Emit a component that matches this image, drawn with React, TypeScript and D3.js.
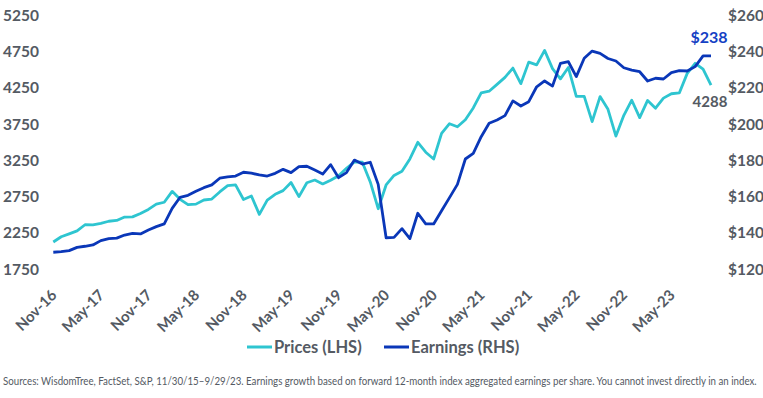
import React, { useLayoutEffect, useRef } from 'react'
import * as d3 from 'd3'

// monthly, Oct-16 .. Sep-23
const months = d3.timeMonth.range(new Date(2016, 9, 1), new Date(2023, 9, 1)).map(d3.timeFormat('%b-%y'))

const prices = [
  2126, 2199, 2239, 2279, 2364, 2363, 2384, 2412, 2423, 2470, 2472, 2519,
  2575, 2648, 2674, 2824, 2714, 2641, 2648, 2705, 2718, 2816, 2902, 2914,
  2712, 2760, 2507, 2704, 2784, 2834, 2946, 2752, 2942, 2980, 2926, 2977,
  3038, 3141, 3231, 3226, 2954, 2585, 2912, 3044, 3100, 3271, 3500, 3363,
  3270, 3622, 3756, 3714, 3811, 3973, 4181, 4204, 4298, 4395, 4523, 4308,
  4605, 4567, 4766, 4516, 4374, 4530, 4132, 4132, 3785, 4130, 3955, 3586,
  3872, 4080, 3840, 4077, 3970, 4109, 4169, 4180, 4450, 4589, 4508, 4288
]

const earnings = [
  129.4, 129.7, 130.3, 132.1, 132.7, 133.4, 135.8, 136.9, 137.2, 138.9, 139.8, 139.5,
  141.7, 143.5, 145.0, 153.6, 159.7, 160.8, 163.0, 165.0, 166.5, 170.2, 171.0, 171.4,
  173.5, 173.0, 172.0, 171.4, 172.9, 175.1, 173.3, 176.6, 176.8, 174.7, 172.5, 177.7,
  170.5, 173.3, 180.2, 178.0, 179.0, 166.8, 137.4, 137.6, 142.4, 136.9, 150.9, 145.0,
  145.0, 152.3, 159.5, 166.8, 180.8, 183.9, 193.1, 200.5, 202.3, 204.7, 212.8, 210.0,
  212.4, 220.6, 223.8, 221.0, 233.5, 234.4, 226.2, 236.3, 240.3, 239.0, 236.2, 234.8,
  231.1, 229.8, 228.9, 223.8, 225.3, 224.9, 228.4, 229.5, 229.3, 231.7, 237.6, 237.6
]

const leftTicks = [1750, 2250, 2750, 3250, 3750, 4250, 4750, 5250]
const rightTicks = [120, 140, 160, 180, 200, 220, 240, 260]
const xLabels = ['Nov-16', 'May-17', 'Nov-17', 'May-18', 'Nov-18', 'May-19', 'Nov-19',
  'May-20', 'Nov-20', 'May-21', 'Nov-21', 'May-22', 'Nov-22', 'May-23']

const source = 'Sources: WisdomTree, FactSet, S&P, 11/30/15–9/29/23. Earnings growth based on forward 12-month index aggregated earnings per share. You cannot invest directly in an index.'

const cyan = '#2ec5d0'
const blue = '#0a37b8'
const grey = '#545a63'
const font = 'Lato, "Noto Sans", sans-serif'

export default function App() {
  const width = 763, height = 398
  const srcRef = useRef<SVGTextElement>(null)

  // squeeze the source line so it spans the page like the narrow original font
  useLayoutEffect(() => {
    const el = srcRef.current
    if (!el) return
    const len = el.getComputedTextLength()
    const k = 755 / len
    el.setAttribute('transform', `translate(3,381) scale(${k},1)`)
  }, [])

  const x = d3.scalePoint<string>().domain(months).range([53.3, 711])
  const yL = d3.scaleLinear().domain([1750, 5250]).range([269.3, 15.3])
  const yR = d3.scaleLinear().domain([120, 260]).range([269.3, 15.3])

  const priceLine = d3.line<number>().x((d, i) => x(months[i])!).y(d => yL(d))
  const earnLine = d3.line<number>().x((d, i) => x(months[i])!).y(d => yR(d))

  const last = months[months.length - 1]
  const lastP = prices[prices.length - 1]
  const lastE = earnings[earnings.length - 1]

  return (
    <svg width={width} height={height} style={{ position: 'absolute', left: 0, top: 0 }}
      fontFamily={font}>
      {leftTicks.map(t => (
        <text key={t} x={3} y={yL(t)} dy="0.35em" fontSize={15.5} fontWeight={700} fill={grey}>{t}</text>
      ))}
      {rightTicks.map(t => (
        <text key={t} x={728} y={yR(t)} dy="0.35em" fontSize={15.5} fontWeight={700} fill={grey}>${t}</text>
      ))}
      {xLabels.map(l => (
        <text key={l} transform={`translate(${x(l)! - 3.5},296) rotate(-45)`} textAnchor="end"
          fontSize={15} fontWeight={700} fill={grey}>{l}</text>
      ))}

      <path d={priceLine(prices)!} fill="none" stroke={cyan} strokeWidth={2.8} strokeLinejoin="round" />
      <path d={earnLine(earnings)!} fill="none" stroke={blue} strokeWidth={2.8} strokeLinejoin="round" />

      <text x={x(last)! - 2} y={yR(lastE) - 19} dy="0.35em" textAnchor="middle" fontSize={16} fontWeight={700}
        fill="#1541c4">${Math.round(lastE)}</text>
      <text x={x(last)! - 1} y={yL(lastP) + 17} dy="0.35em" textAnchor="middle" fontSize={15} fontWeight={700}
        fill={grey}>{lastP}</text>

      <g transform="translate(247,347)">
        <line x1={0} x2={25} stroke={cyan} strokeWidth={3} />
        <text x={27} dy="0.35em" fontSize={16.5} fontWeight={700} fill={grey}>Prices (LHS)</text>
        <line x1={137} x2={162} stroke={blue} strokeWidth={3} />
        <text x={164} dy="0.35em" fontSize={16.5} fontWeight={700} fill={grey}>Earnings (RHS)</text>
      </g>

      <text ref={srcRef} transform="translate(3,381)" dy="0.35em" fontSize={11} fill={grey}>{source}</text>
    </svg>
  )
}
